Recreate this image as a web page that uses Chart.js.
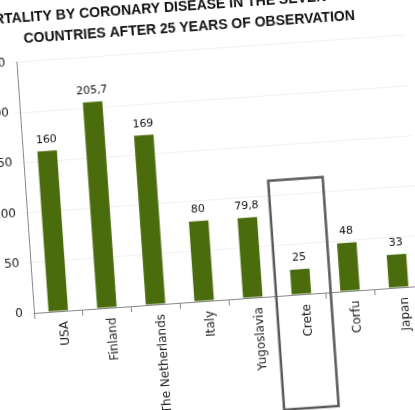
<!DOCTYPE html>
<html>
<head>
<meta charset="utf-8">
<script src="https://cdn.jsdelivr.net/npm/chart.js@4.4.1/dist/chart.umd.min.js"></script>
<style>
  html, body { margin: 0; padding: 0; background: #fff; }
  #wrap { position: relative; width: 415px; height: 410px; overflow: hidden; background: #fff; }
  #chartId { position: absolute; }
</style>
</head>
<body>
<div id="wrap"><canvas id="chartId" width="470" height="470"></canvas></div>
<script>
const countries = ["USA", "Finland", "The Netherlands", "Italy", "Yugoslavia", "Crete", "Corfu", "Japan"];
const deaths = [160, 205.7, 169, 80, 79.8, 25, 48, 33];
const yTicks = [0, 50, 100, 150, 200, 250];
// padding spaces nudge the centred lines sideways, as in the photo
const titleLines = ["MORTALITY BY CORONARY DISEASE IN THE SEVEN               ", "     COUNTRIES AFTER 25 YEARS OF OBSERVATION"];
const boxedIndex = 5;
const boxTop = 115;

// numbers on top of bars, comma decimals like the original
const valueLabels = {
  id: 'valueLabels',
  afterDatasetsDraw(chart) {
    const ctx = chart.ctx;
    const meta = chart.getDatasetMeta(0);
    ctx.save();
    ctx.font = '11px "DejaVu Sans"';
    ctx.fillStyle = '#111';
    ctx.textAlign = 'center';
    ctx.textBaseline = 'bottom';
    meta.data.forEach((bar, i) => {
      ctx.fillText(String(deaths[i]).replace('.', ','), bar.x, bar.y - 6);
    });
    ctx.restore();
  }
};

// grey frame around Crete
const frameBox = {
  id: 'frameBox',
  afterDraw(chart) {
    const ctx = chart.ctx;
    const x = chart.scales.x, y = chart.scales.y;
    const w = (x.getPixelForValue(1) - x.getPixelForValue(0)) * 0.56;
    const cx = x.getPixelForValue(boxedIndex) + 2;
    const top = y.getPixelForValue(boxTop);
    const bottom = chart.chartArea.bottom + 114;
    ctx.save();
    ctx.strokeStyle = '#5a5a5a';
    ctx.lineWidth = 2.5;
    ctx.strokeRect(cx - w, top, w * 2, bottom - top);
    ctx.restore();
  }
};

var chrt = document.getElementById('chartId').getContext('2d');

let chartConfig = {
  type: 'bar',
  data: {
    labels: countries,
    datasets: [{
      data: deaths,
      backgroundColor: '#4b6c0d',
      borderWidth: 0,
      barPercentage: 0.8,
      categoryPercentage: 0.5
    }]
  },
  options: {
    responsive: false,
    animation: false,
    layout: { padding: { top: 0, right: 20, left: 0, bottom: 0 } },
    plugins: {
      legend: { display: false },
      tooltip: { enabled: false },
      title: {
        display: true,
        text: titleLines,
        color: '#111',
        font: { family: '"Liberation Sans"', size: 14, weight: 'bold', lineHeight: 1.55 },
        padding: { top: 39, bottom: 11.5 }
      }
    },
    scales: {
      x: {
        grid: { display: true, drawOnChartArea: false, offset: true, tickLength: 6, color: '#888' },
        border: { color: '#888' },
        ticks: {
          color: '#222',
          font: { family: '"DejaVu Sans"', size: 12 },
          minRotation: 90,
          maxRotation: 90,
          padding: 4,
          labelOffset: 5
        },
        afterFit: s => { s.height = 125; }
      },
      y: {
        min: 0,
        max: 250,
        afterBuildTicks: s => { s.ticks = yTicks.map(v => ({ value: v })); },
        grid: { color: '#f1f1f1', tickLength: 5 },
        border: { color: '#888' },
        ticks: {
          color: '#222',
          font: { family: '"DejaVu Sans"', size: 12 },
          padding: 6
        },
        afterFit: s => { s.width = 60; }
      }
    }
  },
  plugins: [valueLabels, frameBox]
};
window.barChart = new Chart(chrt, chartConfig);

// photo of the chart is tilted: rotate around the axis corner
var area = window.barChart.chartArea;
var cv = document.getElementById('chartId');
cv.style.left = (34 - area.left) + 'px';
cv.style.top = (313 - area.bottom) + 'px';
cv.style.transformOrigin = area.left + 'px ' + area.bottom + 'px';
cv.style.transform = 'rotate(-4deg)';
</script>
</body>
</html>
